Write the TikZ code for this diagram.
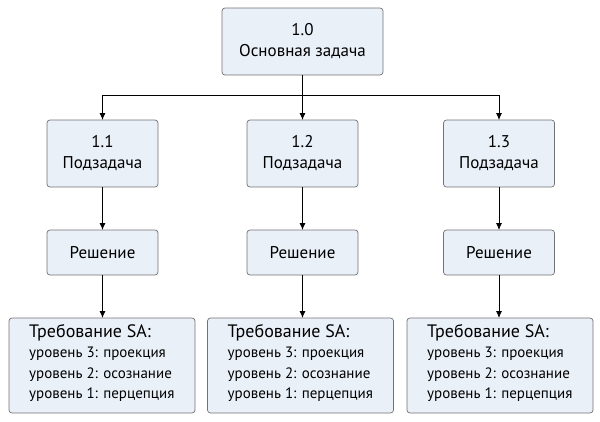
\documentclass[tikz,border=0pt]{standalone}
\usepackage{fontspec}
\setmainfont{PT Sans}
\usetikzlibrary{arrows.meta}
\begin{document}
\begin{tikzpicture}[x=1pt,y=-1pt,
  box/.style={draw=black!55,fill=boxc,rounded corners=3pt,line width=0.7pt},
  lbl/.style={font=\fontsize{17}{21}\selectfont,align=center},
  con/.style={line width=0.8pt,-{Latex[length=7pt,width=6pt]}}]
\definecolor{boxc}{HTML}{E9F0F8}
\useasboundingbox (0,0) rectangle (600,421);
\draw[box] (222,8) rectangle (383,75); \node[lbl] (t) at (302.5,41.5) {1.0\\Основная задача};
\foreach \n/\x/\k in {a/102.5/1,b/302.5/2,c/499/3}{
  \draw[box] (\x-55.5,120) rectangle (\x+55.5,187);
  \node[lbl] (s\n) at (\x,153.5) {1.\k\\Подзадача};
  \draw[box] (\x-55.5,230) rectangle (\x+55.5,275);
  \node[lbl] (r\n) at (\x,252.5) {Решение};
  \coordinate (sb\n) at (\x,187); \coordinate (rt\n) at (\x,230);
  \coordinate (rb\n) at (\x,275); \coordinate (qt\n) at (\x,318);
  \coordinate (st\n) at (\x,120);
  \draw[con] (sb\n) -- (rt\n);
  \draw[con] (rb\n) -- (qt\n);
}
\foreach \n/\x in {a/102,b/300.5,c/500}{
  \draw[box] (\x-93,318) rectangle (\x+93,413);
  \node[anchor=north west,align=left,inner sep=0pt,font=\fontsize{15}{20.5}\selectfont] (q\n) at (\x-73,324)
   {{\fontsize{18}{20}\selectfont Требование SA:}\\
    уровень 3: проекция\\уровень 2: осознание\\уровень 1: перцепция};
}
\coordinate (tb) at (302.5,75); \coordinate (j) at (302.5,95);
\draw[line width=0.8pt] (tb) -- (j);
\draw[line width=0.8pt] (102.5,95) -- (499,95);
\draw[con] (102.5,95) -- (sta);
\draw[con] (j) -- (stb);
\draw[con] (499,95) -- (stc);
\end{tikzpicture}
\end{document}
